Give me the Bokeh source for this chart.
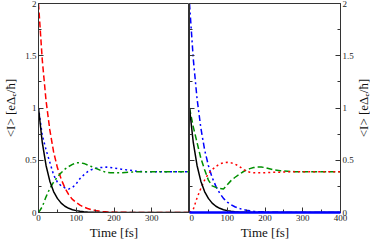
import math
from bokeh.plotting import figure
from bokeh.layouts import row
from bokeh.models import LinearAxis, FixedTicker, Range1d
from bokeh.core.properties import value
from bokeh.embed import file_html
from bokeh.resources import INLINE

# ---------------- data ----------------
T = [0, 10, 20, 30, 40, 50, 60, 70, 80, 90, 100, 110, 120, 130, 140, 150, 160, 170, 180, 190, 200,
     220, 240, 260, 280, 300, 320, 340, 360, 380, 400]

# common black solid curve (both panels)
black_I = [1.0, 0.67, 0.45, 0.30, 0.20, 0.135, 0.09, 0.06, 0.04, 0.027, 0.018, 0.012, 0.008, 0.005, 0.0035,
           0.002, 0.0015, 0.001, 0.0007, 0.0005, 0.0003, 0, 0, 0, 0, 0, 0, 0, 0, 0, 0]

# left panel
left_red_dashed = [2.0, 1.46, 1.07, 0.79, 0.58, 0.43, 0.32, 0.235, 0.17, 0.125, 0.095, 0.07, 0.052, 0.038, 0.028,
                   0.02, 0.014, 0.01, 0.007, 0.005, 0.003, 0.002, 0.001, 0, 0, 0, 0, 0, 0, 0, 0]
left_blue_dotted = [1.0, 0.74, 0.60, 0.48, 0.36, 0.29, 0.255, 0.235, 0.225, 0.24, 0.275, 0.325, 0.36, 0.39, 0.41,
                    0.42, 0.43, 0.43, 0.435, 0.43, 0.425, 0.415, 0.405, 0.395, 0.39, 0.39, 0.39, 0.39, 0.39, 0.39, 0.39]
left_green_dashdot = [0.0, 0.055, 0.15, 0.23, 0.29, 0.34, 0.38, 0.415, 0.44, 0.46, 0.475, 0.475, 0.47, 0.455, 0.44,
                      0.425, 0.41, 0.395, 0.385, 0.38, 0.38, 0.38, 0.385, 0.39, 0.39, 0.39, 0.39, 0.39, 0.39, 0.39, 0.39]

# right panel
right_blue_dashdot = [2.0, 1.47, 1.09, 0.81, 0.60, 0.45, 0.335, 0.25, 0.185, 0.135, 0.10, 0.074, 0.055, 0.041, 0.03,
                      0.022, 0.016, 0.012, 0.009, 0.006, 0.004, 0.002, 0.001, 0, 0, 0, 0, 0, 0, 0, 0]
right_green_dashed = [1.0, 0.82, 0.67, 0.52, 0.41, 0.31, 0.255, 0.24, 0.23, 0.225, 0.265, 0.305, 0.335, 0.36, 0.385,
                      0.405, 0.42, 0.43, 0.435, 0.435, 0.43, 0.41, 0.40, 0.395, 0.39, 0.39, 0.39, 0.39, 0.39, 0.39, 0.39]
right_red_dotted = [0.0, 0.03, 0.14, 0.23, 0.31, 0.37, 0.41, 0.44, 0.465, 0.475, 0.48, 0.475, 0.465, 0.445, 0.42,
                    0.395, 0.385, 0.38, 0.38, 0.38, 0.38, 0.385, 0.385, 0.39, 0.39, 0.39, 0.39, 0.39, 0.39, 0.39, 0.39]
right_blue_zero = [0] * len(T)

# ticks
YTICKS = [0, 0.5, 1, 1.5, 2]
YTICK_LABELS = ["0", "0.5", "1", "1.5", "2"]
YMINOR = [0.25, 0.75, 1.25, 1.75]
XTICKS_LEFT = [0, 100, 200, 300]
XTICKS_RIGHT = [0, 100, 200, 300, 400]
XMINOR = [50, 150, 250, 350]

XLABEL = "Time [fs]"
YLABEL = "<I> [eΔₑ/ħ]"

FONT = "Liberation Serif"
RED = "#ff0000"
BLUE = "#0000ff"
GREEN = "#009000"
FRAME_W = 151
FRAME_H = 209
BOTTOM = 27


def style_axis(ax, ticks, minor, labels=True):
    ax.ticker = FixedTicker(ticks=ticks, minor_ticks=minor)
    ax.major_tick_in = 5
    ax.major_tick_out = 0
    ax.minor_tick_in = 3
    ax.minor_tick_out = 0
    ax.axis_line_color = "#333333"
    ax.major_tick_line_color = "#333333"
    ax.minor_tick_line_color = "#333333"
    ax.major_label_text_font = FONT
    ax.major_label_text_font_size = "9px"
    ax.major_label_standoff = 2 if labels else 0
    ax.major_label_text_color = "#222222"
    ax.axis_label_text_font = FONT
    ax.axis_label_text_font_style = "normal"
    ax.axis_label_text_font_size = "13px"
    ax.axis_label_text_color = "#111111"
    if not labels:
        ax.major_label_overrides = {t: "" for t in ticks}


def make_fig(left):
    p = figure(frame_width=FRAME_W, frame_height=FRAME_H,
               x_range=Range1d(0, 400), y_range=Range1d(0, 2),
               output_backend="svg", toolbar_location=None,
               y_axis_location="left" if left else "right",
               min_border_top=3, min_border_bottom=BOTTOM,
               min_border_left=31 if left else 0, min_border_right=0 if left else 16)
    p.grid.visible = False
    p.outline_line_color = "#333333"
    p.background_fill_color = "white"
    p.border_fill_color = "white"
    xa = p.xaxis[0]
    style_axis(xa, XTICKS_LEFT if left else XTICKS_RIGHT, XMINOR)
    xa.axis_label = XLABEL
    xa.axis_label_standoff = 1
    ya = p.yaxis[0]
    style_axis(ya, YTICKS, YMINOR)
    ya.major_label_overrides = dict(zip(YTICKS, YTICK_LABELS))
    if left:
        ya.axis_label = YLABEL
        ya.axis_label_standoff = 4
    return p


p1 = make_fig(True)
p1.line(T, left_red_dashed, line_color=RED, line_width=1.5, line_dash="6 3")
p1.line(T, left_blue_dotted, line_color=BLUE, line_width=1.5, line_dash="2 3")
p1.line(T, left_green_dashdot, line_color=GREEN, line_width=1.5, line_dash="6 3 2 3")
p1.line(T, black_I, line_color="black", line_width=1.5)

p2 = make_fig(False)
la = LinearAxis()
style_axis(la, YTICKS, YMINOR, labels=False)
p2.add_layout(la, "left")
p2.line(T, right_blue_dashdot, line_color=BLUE, line_width=1.5, line_dash="6 3 2 3")
p2.line(T, right_green_dashed, line_color=GREEN, line_width=1.5, line_dash="6 3")
p2.line(T, right_red_dotted, line_color=RED, line_width=1.5, line_dash="2 3")
p2.line(T, black_I, line_color="black", line_width=1.5)
p2.line(T, right_blue_zero, line_color=BLUE, line_width=2.5, level="overlay")

# narrow strip holding the right-hand y label (reads bottom-to-top like the left one)
p3 = figure(frame_width=14, frame_height=FRAME_H, x_range=Range1d(0, 1), y_range=Range1d(0, 2),
            output_backend="svg", toolbar_location=None,
            x_axis_location=None, y_axis_location=None,
            min_border_top=3, min_border_bottom=BOTTOM, min_border_left=0, min_border_right=0)
p3.grid.visible = False
p3.outline_line_color = None
p3.text(x=[0.5], y=[1], text=[YLABEL], angle=math.pi / 2,
        text_align="center", text_baseline="middle",
        text_font=value(FONT), text_font_size=value("13px"), text_color="#111111")

layout = row(p1, p2, p3)
open("out.html", "w").write(file_html(layout, INLINE))
